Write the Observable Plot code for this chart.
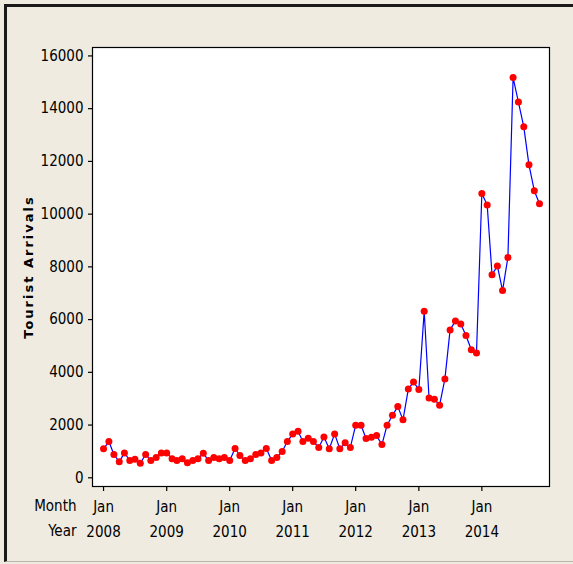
<!DOCTYPE html>
<html>
<head>
<meta charset="utf-8">
<script src="https://cdn.jsdelivr.net/npm/d3@7"></script>
<script src="https://cdn.jsdelivr.net/npm/@observablehq/plot@0.6"></script>
<style>
  body { margin: 0; background: #efebe1; }
  #wrap { position: relative; width: 573px; height: 564px; background: #efebe1; overflow: hidden; }
  #edge { position: absolute; left: 4px; top: 4px; right: -2px; bottom: 2px;
          border-left: 3px solid #1a1a1a; border-top: 3px solid #1a1a1a; border-bottom: 1px solid #b8b5ad; }
  #chart { position: absolute; left: 0; top: 0; }
</style>
</head>
<body>
<div id="wrap"><div id="edge"></div><div id="chart"></div></div>
<script>
// 연도 (x축 눈금)
const years = [2008, 2009, 2010, 2011, 2012, 2013, 2014];

// 월별 관광객 수 (2008-01 ~ 2014-12), 그림에서 읽은 값
const arrivals = [
  1100, 1375, 885, 605, 945, 655, 705, 555, 885, 655, 770, 945,      // 2008
  945, 720, 655, 720, 570, 655, 720, 930, 655, 770, 720, 770,        // 2009
  655, 1110, 845, 655, 720, 885, 945, 1110, 655, 770, 1000, 1375,    // 2010
  1665, 1765, 1375, 1500, 1375, 1150, 1550, 1100, 1665, 1100, 1325, 1150, // 2011
  1995, 1995, 1490, 1540, 1600, 1260, 1995, 2370, 2700, 2200, 3365, 3630, // 2012
  3350, 6320, 3030, 2980, 2750, 3750, 5610, 5950, 5835, 5400, 4855, 4735, // 2013
  10785, 10345, 7705, 8035, 7100, 8360, 15180, 14250, 13310, 11870, 10890, 10395 // 2014
];

const months = d3.utcMonth.range(new Date(Date.UTC(2008, 0, 1)), new Date(Date.UTC(2015, 0, 1)));
const data = months.map((date, i) => ({ date, value: arrivals[i] }));
const yearTicks = years.map(y => new Date(Date.UTC(y, 0, 1)));

const tickFont = "'Liberation Sans Narrow', 'DejaVu Sans Condensed', sans-serif";

const chart = Plot.plot({
  width: 573,
  height: 564,
  marginLeft: 92,
  marginRight: 24,
  marginTop: 47,
  marginBottom: 78,
  style: { background: 'transparent', fontFamily: tickFont, fontSize: '15px', color: '#000', overflow: 'visible' },
  x: { type: 'utc', domain: [new Date(Date.UTC(2007, 9, 29)), new Date(Date.UTC(2015, 0, 28))] },
  y: { domain: [-330, 16320] },
  marks: [
    Plot.frame({ fill: 'white', stroke: '#000', strokeWidth: 1.2 }),
    Plot.axisY({ ticks: d3.range(0, 16001, 2000), tickFormat: d => String(d), tickSize: 4, tickPadding: 5,
                 label: null, fontSize: 15, strokeWidth: 1.2 }),
    Plot.axisX({ ticks: yearTicks, tickFormat: () => 'Jan', tickSize: 5, tickPadding: 10,
                 label: null, fontSize: 15, strokeWidth: 1.2 }),
    Plot.axisX({ ticks: yearTicks, tickFormat: d => String(d.getUTCFullYear()), tickSize: 0, tickPadding: 40,
                 label: null, fontSize: 15 }),
    Plot.text(['Month'], { frameAnchor: 'bottom-left', dx: -16, dy: 24, textAnchor: 'end', fontSize: 15 }),
    Plot.text(['Year'], { frameAnchor: 'bottom-left', dx: -16, dy: 49, textAnchor: 'end', fontSize: 15 }),
    Plot.text(['Tourist Arrivals'], { frameAnchor: 'left', textAnchor: 'middle', dx: -64, rotate: -90, fontSize: 13,
                 fontWeight: 'bold', fontFamily: "'DejaVu Sans', Verdana, sans-serif" }),
    Plot.line(data, { x: 'date', y: 'value', stroke: '#0000ff', strokeWidth: 1.2 }),
    Plot.dot(data, { x: 'date', y: 'value', fill: '#ff0000', r: 3.5 })
  ]
});

d3.select(chart).selectAll('text')
  .filter(function () { return this.textContent === 'Tourist Arrivals'; })
  .style('letter-spacing', '2px');

document.getElementById('chart').appendChild(chart);
</script>
</body>
</html>
